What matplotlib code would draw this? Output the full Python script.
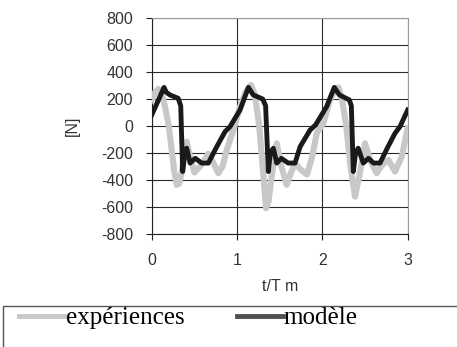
import numpy as np
import matplotlib
matplotlib.use('Agg')
import matplotlib.pyplot as plt
from matplotlib.lines import Line2D
from matplotlib.patches import Rectangle

plt.rcParams['axes.unicode_minus'] = False

# expériences (gray)
t_exp = [0.0, 0.04, 0.078, 0.12, 0.156, 0.20, 0.234, 0.265, 0.293, 0.32, 0.35, 0.38, 0.41, 0.45, 0.50,
         0.58, 0.664, 0.72, 0.781, 0.83, 0.879, 0.957, 1.035, 1.10, 1.164, 1.21, 1.26, 1.30, 1.34, 1.37,
         1.40, 1.465, 1.52, 1.582, 1.63, 1.68, 1.74, 1.82, 1.88, 1.934, 2.012, 2.09, 2.15, 2.188, 2.23,
         2.28, 2.33, 2.383, 2.44, 2.5, 2.57, 2.637, 2.70, 2.774, 2.852, 2.93, 3.0]
f_exp = [193, 250, 275, 230, 143, 0, -178, -340, -437, -430, -350, -200, -116, -230, -345,
         -290, -205, -270, -350, -300, -178, -30, 143, 250, 304, 230, 0, -300, -610, -560,
         -400, -128, -300, -437, -350, -275, -320, -360, -230, -54, 20, 193, 270, 286, 200,
         0, -300, -524, -350, -128, -270, -350, -290, -252, -338, -230, -17]

# modèle (black)
t_mod = [0.0, 0.07, 0.144, 0.17, 0.214, 0.31, 0.34, 0.363, 0.39, 0.41, 0.45, 0.51, 0.586, 0.664,
         0.742, 0.80, 0.86, 0.918, 0.97, 1.035, 1.133, 1.19, 1.30, 1.335, 1.367, 1.39, 1.426, 1.465,
         1.52, 1.60, 1.68, 1.74, 1.80, 1.856, 1.92, 2.05, 2.14, 2.2, 2.316, 2.34, 2.363, 2.39, 2.42,
         2.48, 2.54, 2.60, 2.676, 2.77, 2.852, 2.91, 3.0]
f_mod = [81, 180, 286, 250, 230, 205, 150, -338, -200, -165, -275, -240, -275, -275,
         -178, -110, -42, -5, 50, 118, 286, 230, 200, 150, -338, -200, -165, -275,
         -240, -275, -275, -153, -90, -30, 7, 143, 286, 230, 193, 150, -338, -200, -165,
         -275, -240, -275, -275, -153, -54, -5, 118]

fig = plt.figure(figsize=(4.57, 3.47), dpi=100)
ax = fig.add_axes([0.332, 0.326, 0.560, 0.622])

ax.plot(t_exp, f_exp, color='#c8c8c8', lw=4.4, solid_joinstyle='round', zorder=3)
ax.plot(t_mod, f_mod, color='#1a1a1a', lw=3.5, solid_joinstyle='round', zorder=4)

ax.set_xlim(0, 3)
ax.set_ylim(-800, 800)
ax.set_xticks([0, 1, 2, 3])
ax.set_yticks(np.arange(-800, 801, 200))
ax.grid(True, color='#2a2a2a', lw=0.8)
ax.set_axisbelow(True)
for s in ['top', 'right']:
    ax.spines[s].set_color('#999999')
for s in ['left', 'bottom']:
    ax.spines[s].set_color('#222222')
ax.tick_params(direction='out', length=4.5, width=0.8, color='#222222', pad=9,
               labelsize=11.5, labelcolor='#333333')
for lab in ax.get_xticklabels() + ax.get_yticklabels():
    lab.set_family('Liberation Sans')
ax.set_xlabel('t/T m', fontsize=11.5, family='Liberation Sans', color='#333333', labelpad=8)
ax.set_ylabel('[N]', fontsize=11.5, family='Liberation Sans', color='#333333', labelpad=15)

# legend box
fig.patches.append(Rectangle((0.007, -0.1), 1.1, 0.218, transform=fig.transFigure,
                             fill=False, edgecolor='#555555', lw=1.0))
handles = [Line2D([], [], color='#c8c8c8', lw=3.5),
           Line2D([], [], color='#505050', lw=3.5)]
fig.legend(handles, ['expériences', 'modèle'], loc='center left',
           bbox_to_anchor=(0.015, 0.083), ncol=2, frameon=False,
           prop={'family': 'Liberation Serif', 'size': 18},
           handlelength=1.85, handletextpad=0.0, columnspacing=2.1, borderpad=0)

fig.savefig('out.png', dpi=100)
